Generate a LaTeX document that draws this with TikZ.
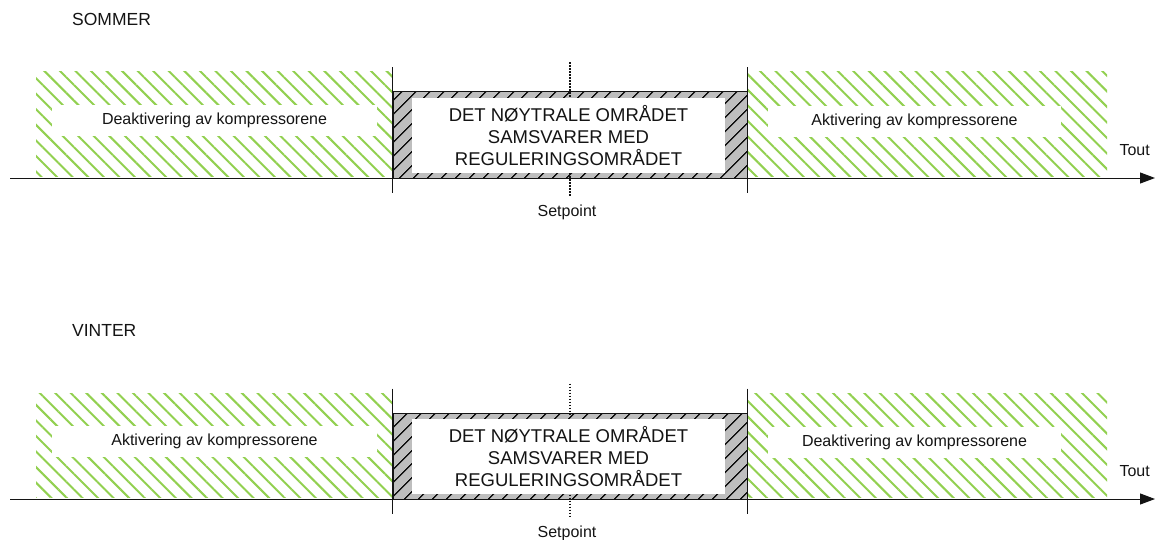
\documentclass[tikz,border=0pt]{standalone}
\usepackage{fontspec}
\setmainfont{Liberation Sans}
\usetikzlibrary{arrows.meta,patterns.meta,positioning,calc}
\definecolor{hatchgreen}{RGB}{146,208,80}
\definecolor{zonegray}{RGB}{190,190,190}
\definecolor{inkblack}{RGB}{20,20,20}
\tikzset{
  greenzone/.style={inner sep=0pt,minimum height=104pt,
    pattern={Lines[angle=-45,distance=11pt,line width=2pt]},
    pattern color=hatchgreen},
  neutralzone/.style={draw=inkblack,line width=1pt,inner sep=0pt,
    minimum width=354pt,minimum height=86pt,
    preaction={fill=zonegray},
    pattern={Lines[angle=45,distance=10.5pt,line width=1.6pt]},
    pattern color=inkblack},
  zonelab/.style={fill=white,inner sep=0pt,minimum height=31pt,
    font=\fontsize{16}{19}\selectfont,text=inkblack},
  neutrallab/.style={fill=white,inner sep=0pt,align=center,
    minimum width=313pt,minimum height=75pt,
    font=\fontsize{18.5}{22}\selectfont,text=inkblack},
  season/.style={font=\fontsize{17.5}{20}\selectfont,text=inkblack,inner sep=0pt},
  axislab/.style={font=\fontsize{16}{19}\selectfont,text=inkblack,inner sep=0pt},
  axis/.style={-{Triangle[length=15pt,width=11pt]},line width=1pt,draw=inkblack},
  bound/.style={line width=1pt,draw=inkblack},
  setline/.style={line width=1.8pt,draw=inkblack,dash pattern=on 1.6pt off 1.4pt}
}

\begin{document}
\begin{tikzpicture}[x=1pt,y=-1pt]
  \useasboundingbox (0,0) rectangle (1155,540);

  \foreach \p/\dy/\ty/\season/\lefttxt/\righttxt in {
      s/0/19/SOMMER/Deaktivering av kompressorene/Aktivering av kompressorene,
      v/321/330/VINTER/Aktivering av kompressorene/Deaktivering av kompressorene}{
    \node[season,anchor=west] (\p-season) at (72,\ty) {\season};
    \begin{scope}[yshift=-\dy pt]
      % hatched zones
      \node[greenzone,minimum width=356pt] (\p-left) at (214,124) {};
      \node[greenzone,minimum width=359pt] (\p-right) at (927.5,124) {};
      \node[neutralzone] (\p-neutral) at (570,135) {};
      % setpoint, hidden behind the neutral label
      \draw[setline] ($(\p-neutral.north)+(0,-29)$) -- ($(\p-neutral.south)+(0,17)$);
      \node[axislab] (\p-setpoint) at (567,212) {Setpoint};
      % labels
      \node[zonelab,minimum width=325pt] (\p-lefttxt) at (214.5,120.5) {\lefttxt};
      \node[zonelab,minimum width=293pt] (\p-righttxt) at (914.5,121.5) {\righttxt};
      \node[neutrallab] (\p-neutraltxt) at (568.5,135.5) {
        DET NØYTRALE OMRÅDET\\SAMSVARER MED\\REGULERINGSOMRÅDET};
      % axis
      \coordinate (\p-start) at (10,178);
      \coordinate (\p-end) at (1155,178);
      \draw[axis] (\p-start) -- (\p-end);
      \node[axislab,anchor=east] (\p-tout) at (1150,150) {Tout};
      % zone limits
      \draw[bound] ($(\p-neutral.north west)+(0,-24)$) -- ($(\p-neutral.south west)+(0,14)$);
      \draw[bound] ($(\p-neutral.north east)+(0,-24)$) -- ($(\p-neutral.south east)+(0,14)$);
    \end{scope}
  }
\end{tikzpicture}
\end{document}
